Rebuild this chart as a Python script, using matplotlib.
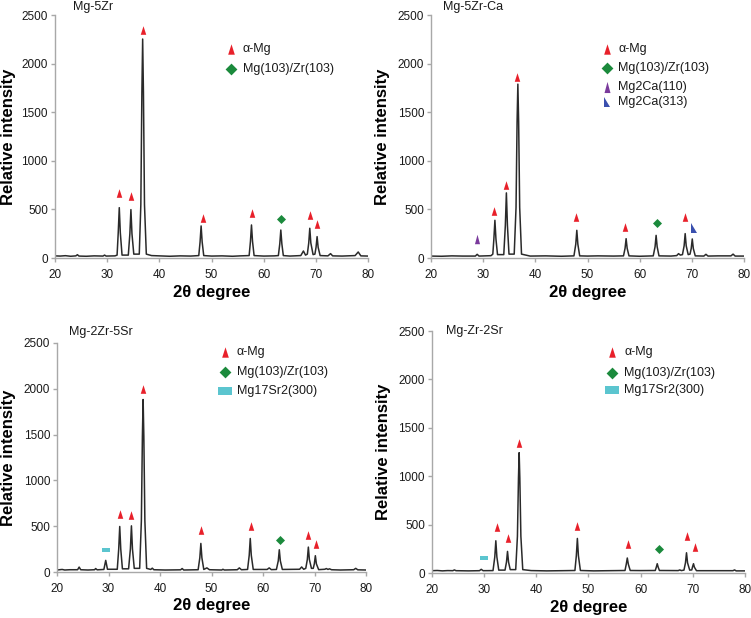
import matplotlib
matplotlib.use("Agg")
import matplotlib.pyplot as plt

plt.rcParams['font.family'] = ['Liberation Sans', 'DejaVu Sans']

# XRD traces, (2theta, intensity) vertices
trace_mg5zr = [
    (20, 22), (21, 20), (22, 24), (23, 18), (24, 22), (24.3, 34), (24.6, 20), (26, 18), (27.5, 22),
    (29.2, 20), (29.5, 30), (29.8, 20), (31.5, 22), (31.9, 30), (32.12, 260), (32.32, 518), (32.52, 260),
    (32.85, 30), (34.05, 30), (34.35, 250), (34.55, 498), (34.75, 250), (35.1, 40), (36.15, 40),
    (36.45, 550), (36.65, 1700), (36.8, 2253), (36.95, 1700), (37.15, 550), (37.5, 40), (38.5, 25),
    (40, 22), (42, 18), (44, 22), (46, 20), (47.55, 25), (47.8, 165), (48.0, 330), (48.2, 165), (48.5, 25),
    (50, 20), (52, 22), (54, 18), (55.5, 22), (57.2, 25), (57.45, 170), (57.65, 340), (57.85, 170),
    (58.15, 25), (60, 20), (62, 22), (62.8, 25), (63.07, 145), (63.27, 288), (63.47, 145), (63.75, 25),
    (65, 20), (67.1, 25), (67.6, 72), (68.0, 30), (68.35, 40), (68.62, 155), (68.82, 306), (69.02, 155),
    (69.45, 35), (69.8, 40), (70.02, 110), (70.22, 220), (70.42, 110), (70.8, 25), (72.3, 22), (72.8, 45),
    (73.2, 22), (75, 20), (77.5, 25), (78.1, 62), (78.6, 22), (80, 20),
]
trace_mg5zrca = [
    (20, 20), (22, 18), (24, 22), (26, 20), (28.5, 20), (28.85, 38), (29.2, 20), (31.5, 24), (31.85, 40),
    (32.05, 195), (32.25, 388), (32.45, 195), (32.75, 35), (33.95, 35), (34.25, 335), (34.45, 670),
    (34.65, 335), (34.95, 40), (35.95, 40), (36.3, 520), (36.5, 1400), (36.65, 1789), (36.8, 1400),
    (37.0, 520), (37.35, 40), (39, 20), (42, 22), (45, 18), (47.4, 22), (47.75, 142), (47.95, 285),
    (48.15, 142), (48.5, 22), (50, 20), (52, 22), (55, 20), (56.9, 22), (57.2, 100), (57.4, 199),
    (57.6, 100), (57.95, 22), (60, 18), (62.6, 22), (62.95, 116), (63.15, 233), (63.35, 116), (63.7, 22),
    (66, 20), (67.1, 25), (67.45, 45), (67.8, 30), (68.2, 35), (68.52, 125), (68.72, 251), (68.92, 125),
    (69.3, 35), (69.65, 40), (69.88, 98), (70.08, 196), (70.28, 98), (70.65, 22), (72.3, 20), (72.7, 38),
    (73.1, 20), (75, 22), (77.5, 22), (77.9, 40), (78.3, 20), (80, 20),
]
trace_mg2zr5sr = [
    (20, 22), (21, 28), (21.5, 22), (22.5, 25), (24, 25), (24.3, 54), (24.6, 25), (26, 22), (27.3, 25),
    (27.5, 38), (27.8, 24), (29.1, 28), (29.46, 127), (29.8, 30), (31.7, 30), (31.98, 250), (32.18, 497),
    (32.38, 250), (32.7, 35), (33.9, 35), (34.25, 252), (34.45, 504), (34.65, 252), (35.0, 40), (36.05, 40),
    (36.38, 560), (36.58, 1480), (36.72, 1883), (36.86, 1480), (37.06, 560), (37.4, 40), (38.2, 28),
    (38.5, 42), (38.8, 25), (41, 22), (44, 24), (44.3, 38), (44.6, 22), (47.4, 25), (47.73, 156),
    (47.93, 312), (48.13, 156), (48.5, 28), (49.1, 45), (49.6, 25), (52, 22), (52.2, 30), (52.5, 22),
    (55, 25), (55.4, 45), (55.8, 25), (57.0, 28), (57.32, 183), (57.52, 366), (57.72, 183), (58.1, 28),
    (60.8, 28), (61.2, 45), (61.6, 26), (62.6, 28), (62.96, 122), (63.16, 243), (63.36, 122), (63.75, 28),
    (67.1, 30), (67.5, 55), (67.9, 30), (68.3, 40), (68.6, 136), (68.8, 272), (69.0, 136), (69.4, 40),
    (69.75, 40), (69.96, 89), (70.16, 178), (70.36, 89), (70.8, 26), (72, 30), (72.3, 38), (72.6, 28),
    (72.9, 35), (73.3, 25), (75, 22), (77.6, 25), (78, 40), (78.4, 24), (80, 22),
]
trace_mgzr2sr = [
    (20, 24), (21, 26), (22, 22), (23, 25), (24, 24), (24.3, 32), (24.6, 24), (27, 22), (29.1, 24),
    (29.44, 38), (29.8, 24), (31.7, 25), (32.04, 166), (32.24, 333), (32.44, 166), (32.8, 30), (34.0, 30),
    (34.28, 112), (34.48, 223), (34.68, 112), (35.0, 35), (36.05, 35), (36.38, 380), (36.58, 980),
    (36.71, 1243), (36.84, 980), (37.04, 380), (37.4, 35), (39, 25), (42, 22), (45, 24), (47.4, 26),
    (47.67, 178), (47.87, 357), (48.07, 178), (48.45, 26), (51, 22), (54, 24), (57.0, 26), (57.24, 90),
    (57.44, 155), (57.64, 90), (58.0, 26), (60, 25), (62.8, 26), (63.0, 60), (63.18, 96), (63.36, 60),
    (63.6, 26), (67.2, 25), (67.5, 32), (67.8, 25), (68.3, 30), (68.59, 105), (68.79, 209), (68.99, 105),
    (69.4, 30), (69.8, 32), (69.95, 65), (70.13, 96), (70.3, 60), (70.7, 24), (74, 24), (77.7, 24),
    (78.0, 32), (78.3, 22), (80, 22),
]

# phase markers above the peaks: (2theta, y, phase)
marks_mg5zr = [
    (32.32, 670, 'mg'), (34.55, 639, 'mg'), (36.78, 2345, 'mg'), (48.27, 416, 'mg'), (57.84, 464, 'mg'),
    (63.35, 398, 'zr'), (68.8, 446, 'mg'), (70.22, 347, 'mg'),
]
marks_mg5zrca = [
    (28.82, 199, 'ca110'), (32.08, 481, 'mg'), (34.31, 755, 'mg'), (36.55, 1865, 'mg'), (47.86, 422, 'mg'),
    (57.12, 319, 'mg'), (63.39, 361, 'zr'), (68.75, 422, 'mg'), (70.35, 309, 'ca313'),
]
marks_mg2zr5sr = [
    (29.46, 240, 'sr'), (32.18, 631, 'mg'), (34.45, 617, 'mg'), (36.72, 1999, 'mg'), (47.93, 454, 'mg'),
    (57.72, 504, 'mg'), (63.29, 352, 'zr'), (68.8, 399, 'mg'), (70.23, 305, 'mg'),
]
marks_mgzr2sr = [
    (29.89, 155, 'sr'), (32.44, 474, 'mg'), (34.54, 357, 'mg'), (36.71, 1339, 'mg'), (47.87, 488, 'mg'),
    (57.5, 299, 'mg'), (63.56, 247, 'zr'), (68.79, 378, 'mg'), (70.51, 268, 'mg'),
]

# legend rows: (phase, label)
legend_mg5zr = [('mg', 'α-Mg'), ('zr', 'Mg(103)/Zr(103)')]
legend_mg5zrca = [('mg', 'α-Mg'), ('zr', 'Mg(103)/Zr(103)'), ('ca110', 'Mg2Ca(110)'), ('ca313', 'Mg2Ca(313)')]
legend_sr = [('mg', 'α-Mg'), ('zr', 'Mg(103)/Zr(103)'), ('sr', 'Mg17Sr2(300)')]

names = ['Mg-5Zr', 'Mg-5Zr-Ca', 'Mg-2Zr-5Sr', 'Mg-Zr-2Sr']

# marker styles: colour, shape, size on peaks, size in legend
styles = {
    'mg': ('#e8202a', [(-0.32, -0.5), (0.32, -0.5), (0, 0.5)], 6.2, 7.5),
    'zr': ('#1b8a3c', [(0, 0.5), (0.5, 0), (0, -0.5), (-0.5, 0)], 6.5, 8.5),
    'ca110': ('#7a3a9c', [(-0.27, -0.5), (0.27, -0.5), (0, 0.5)], 6.8, 8.0),
    'ca313': ('#3a4fae', [(-0.35, 0.5), (-0.35, -0.5), (0.35, -0.5)], 7.0, 7.0),
    'sr': ('#5bc5cf', [(-0.5, -0.27), (0.5, -0.27), (0.5, 0.27), (-0.5, 0.27)], 5.8, 9.5),
}


def draw_panel(ax, name, trace, marks, legend, title_xy, leg_x, text_x, leg_y, ylab_x, xlab_y):
    xs = [p[0] for p in trace]
    ys = [p[1] for p in trace]
    ax.plot(xs, ys, color='#2a2a2a', lw=1.1, zorder=2)
    for x, y, ph in marks:
        c, verts, ms, _ = styles[ph]
        ax.plot([x], [y], marker=verts, ms=ms, color=c, mew=0, ls='none', zorder=3)
    for (ph, lab), yy in zip(legend, leg_y):
        c, verts, _, ms = styles[ph]
        ax.plot([leg_x], [yy], marker=verts, ms=ms, color=c, mew=0, ls='none', zorder=3)
        ax.text(text_x, yy, lab, fontsize=9, va='center', ha='left', color='#1a1a1a')
    ax.text(title_xy[0], title_xy[1], name, fontsize=9, va='center', ha='left',
            color='#1a1a1a', clip_on=False)
    ax.set_xlim(20, 80)
    ax.set_ylim(0, 2500)
    ax.set_xticks(range(20, 81, 10))
    ax.set_yticks(range(0, 2501, 500))
    for s in ['top', 'right']:
        ax.spines[s].set_visible(False)
    for s in ['left', 'bottom']:
        ax.spines[s].set_color('#a8a8a8')
        ax.spines[s].set_linewidth(1.0)
    ax.tick_params(direction='out', length=3, width=1, color='#a8a8a8', labelsize=8.5,
                   labelcolor='#1a1a1a', pad=2)
    ax.tick_params(axis='x', pad=5)
    ax.set_ylabel('Relative intensity', fontsize=12, fontweight='bold')
    ax.set_xlabel('2θ degree', fontsize=12, fontweight='bold')
    ax.yaxis.set_label_coords(ylab_x, 0.5)
    ax.xaxis.set_label_coords(0.5, xlab_y)


fig = plt.figure(figsize=(7.51, 6.18), dpi=100)
ax1 = fig.add_axes([0.0732, 0.5825, 0.417, 0.3932])
ax2 = fig.add_axes([0.5739, 0.5825, 0.4168, 0.3932])
ax3 = fig.add_axes([0.0759, 0.0744, 0.4115, 0.3706])
ax4 = fig.add_axes([0.5752, 0.0728, 0.4168, 0.3916])

draw_panel(ax1, names[0], trace_mg5zr, marks_mg5zr, legend_mg5zr, (23.5, 2586),
           53.7, 56.0, [2146, 1940], -0.125, -0.11)
draw_panel(ax2, names[1], trace_mg5zrca, marks_mg5zrca, legend_mg5zrca, (22.3, 2586),
           53.7, 55.85, [2146, 1957, 1755, 1605], -0.131, -0.11)
draw_panel(ax3, names[2], trace_mg2zr5sr, marks_mg2zr5sr, legend_sr, (22.3, 2620),
           52.55, 54.87, [2402, 2184, 1974], -0.133, -0.115)
draw_panel(ax4, names[3], trace_mgzr2sr, marks_mgzr2sr, legend_sr, (22.7, 2500),
           54.45, 56.86, [2284, 2071, 1889], -0.131, -0.11)

fig.savefig('out.png', dpi=100)
